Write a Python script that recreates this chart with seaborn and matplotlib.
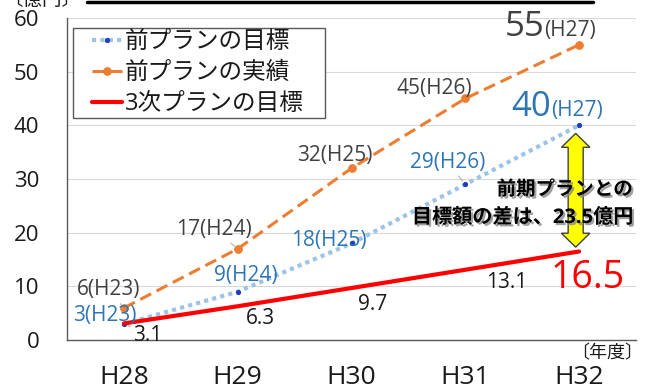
import numpy as np
import pandas as pd
import matplotlib
matplotlib.use("Agg")
import matplotlib.pyplot as plt
import matplotlib.patheffects as pe
from matplotlib.patches import Polygon, Rectangle
from matplotlib.lines import Line2D
import seaborn as sns

years = ["H28", "H29", "H30", "H31", "H32"]
prev_target = [3, 9, 18, 29, 40]
prev_target_labels = ["3(H23)", "9(H24)", "18(H25)", "29(H26)", "40"]
prev_actual = [6, 17, 32, 45, 55]
prev_actual_labels = ["6(H23)", "17(H24)", "32(H25)", "45(H26)", "55"]
new_target = [3.1, 6.3, 9.7, 13.1, 16.5]
new_target_labels = ["3.1", "6.3", "9.7", "13.1", "16.5"]

sns.set_theme(style="white")
plt.rcParams["font.family"] = ["Open Sans", "Noto Sans CJK JP", "DejaVu Sans"]

pos = np.arange(len(years))
df = pd.DataFrame({"pos": pos, "prev_target": prev_target,
                   "prev_actual": prev_actual, "new_target": new_target})

fig = plt.figure(figsize=(6.45, 3.9), dpi=100)
ax = fig.add_axes([0.104, 0.128, 0.882, 0.826])

sns.lineplot(data=df, x="pos", y="prev_target", ax=ax, color="#9DC3E6",
             lw=3, linestyle=(0, (1, 1)), marker="o", ms=3,
             mfc="#1F3FBF", mec="#1F3FBF", label="前プランの目標")
sns.lineplot(data=df, x="pos", y="prev_actual", ax=ax, color="#ED7D31",
             lw=2.2, linestyle=(0, (4, 2)), marker="o", ms=5.5,
             mfc="#ED7D31", mec="#ED7D31", label="前プランの実績")
sns.lineplot(data=df, x="pos", y="new_target", ax=ax, color="#FF0000",
             lw=3, label="3次プランの目標")

ax.set_xlim(-0.5, 4.5)
ax.set_ylim(0, 60)
ax.set_yticks(range(0, 61, 10))
ax.set_xticks(pos)
ax.set_xticklabels(years, fontsize=19, color="#1a1a1a")
ax.tick_params(axis="y", labelsize=16, colors="#1a1a1a", pad=20, length=0)
ax.tick_params(axis="x", length=0, pad=18)
ax.set_xlabel("")
ax.set_ylabel("")
ax.grid(axis="y", color="#D9D9D9", lw=0.8)
for s in ["top", "right"]:
    ax.spines[s].set_visible(False)
for s in ["left", "bottom"]:
    ax.spines[s].set_color("#595959")
    ax.spines[s].set_linewidth(1)

# legend: own frame box, entries without frame
ax.add_patch(Rectangle((0.0105, 0.689), 0.442, 0.28, transform=ax.transAxes,
                       fc="white", ec="#595959", lw=1, zorder=3))
leg = ax.legend(loc="upper left", bbox_to_anchor=(0.044, 0.962), fontsize=17,
                frameon=False, handlelength=1.25, handletextpad=0.15,
                borderpad=0, labelspacing=0.3, borderaxespad=0.0)
leg.set_zorder(4)
for t in leg.get_texts():
    t.set_color("#1a1a1a")

# data labels
actual_off = [(-11, 13), (-17, 14), (-12, 9), (-22, 7)]
target_off = [(-14, 6), (6, 12), (-16, 2), (-13, 16)]
new_off = [(17, -9), (16, -9), (15, -12), (30, -9)]
leader = dict(arrowstyle="-", color="#A6A6A6", lw=0.7, shrinkA=0, shrinkB=3)
for i in range(4):
    ax.annotate(prev_actual_labels[i], (pos[i], prev_actual[i]), xytext=actual_off[i],
                textcoords="offset points", ha="center", va="center",
                fontsize=15, color="#404040",
                arrowprops=leader if i in (0, 1) else None)
    ax.annotate(prev_target_labels[i], (pos[i], prev_target[i]), xytext=target_off[i],
                textcoords="offset points", ha="center", va="center",
                fontsize=15, color="#2E75B6",
                arrowprops=leader if i == 3 else None)
    ax.annotate(new_target_labels[i], (pos[i], new_target[i]), xytext=new_off[i],
                textcoords="offset points", ha="center", va="center",
                fontsize=15, color="#1a1a1a",
                arrowprops=leader if i == 0 else None)

# last values with big numbers
ax.annotate(prev_actual_labels[4], (pos[4], prev_actual[4]), xytext=(-25, 6.5),
            textcoords="offset points", ha="right", va="baseline",
            fontsize=25, color="#404040")
ax.annotate("(H27)", (pos[4], prev_actual[4]), xytext=(-25, 6.5),
            textcoords="offset points", ha="left", va="baseline",
            fontsize=15, color="#404040")
ax.annotate(prev_target_labels[4], (pos[4], prev_target[4]), xytext=(-20, 6.5),
            textcoords="offset points", ha="right", va="baseline",
            fontsize=25, color="#2E75B6")
ax.annotate("(H27)", (pos[4], prev_target[4]), xytext=(-20, 6.5),
            textcoords="offset points", ha="left", va="baseline",
            fontsize=15, color="#2E75B6")
ax.annotate(new_target_labels[4], (pos[4], new_target[4]), xytext=(6, -19),
            textcoords="offset points", ha="center", va="center",
            fontsize=27, color="#FF0000")

# yellow double arrow showing the gap
top, bot = prev_target[-1] - 1.5, new_target[-1] + 0.8
xc = pos[-1] - 0.03
sw, hw, hl = 0.066, 0.125, 2.6
arrow = [(xc, top), (xc + hw, top - hl), (xc + sw, top - hl), (xc + sw, bot + hl),
         (xc + hw, bot + hl), (xc, bot), (xc - hw, bot + hl), (xc - sw, bot + hl),
         (xc - sw, top - hl), (xc - hw, top - hl)]
ax.add_patch(Polygon(arrow, closed=True, fc="#FFFF00", ec="#404040", lw=1, zorder=4))

shadow = [pe.withSimplePatchShadow(offset=(1.5, -1.5), shadow_rgbFace="#888888", alpha=0.8)]
ax.text(0.995, 0.466, "前期プランとの", transform=ax.transAxes, ha="right", va="center",
        fontsize=14, fontweight="bold", color="black", path_effects=shadow, zorder=5)
ax.text(0.995, 0.379, "目標額の差は、23.5億円", transform=ax.transAxes, ha="right",
        va="center", fontsize=14.5, fontweight="bold", color="black",
        path_effects=shadow, zorder=5)

fig.text(0.997, 0.095, "〔年度〕", ha="right", va="center", fontsize=13, color="#1a1a1a")
fig.text(0.005, 1.0, "〔億円〕", ha="left", va="center", fontsize=14, color="#1a1a1a")
fig.add_artist(Line2D([0.135, 0.919], [0.996, 0.996], color="black", lw=2.5,
                      transform=fig.transFigure))

fig.savefig("out.png", dpi=100)
